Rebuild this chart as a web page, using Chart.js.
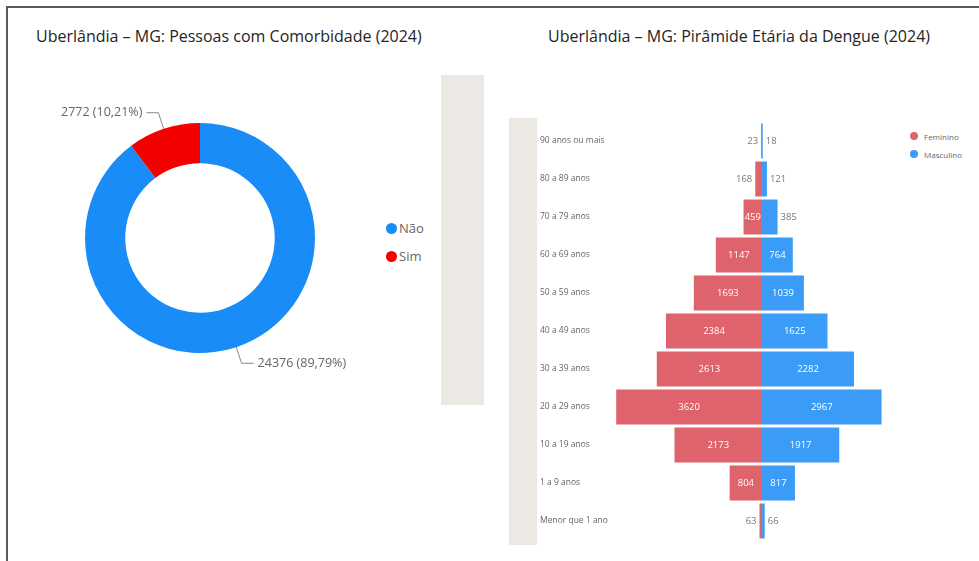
<!DOCTYPE html>
<html lang="pt-BR">
<head>
<meta charset="utf-8">
<script src="https://cdn.jsdelivr.net/npm/chart.js@4.4.1/dist/chart.umd.min.js"></script>
<style>
  html, body { margin:0; padding:0; background:#fff; }
  body { width:979px; height:561px; position:relative; overflow:hidden; font-family:"Open Sans", "Noto Sans", sans-serif; }
  .frame { position:absolute; left:6px; top:6px; width:990px; height:600px; border-top:2px solid #5a5a5a; border-left:2px solid #5a5a5a; }
  .title { position:absolute; top:25px; font-size:16px; color:#252423; white-space:nowrap; }
  .panel { position:absolute; background:#ECE9E4; }
  .legend { position:absolute; color:#666; }
  .legend .item { display:flex; align-items:center; white-space:nowrap; }
  .legend .dot { border-radius:50%; display:inline-block; }
  canvas { position:absolute; }
</style>
</head>
<body>
<div class="frame"></div>
<div class="title" style="left:36px;">Uberlândia – MG: Pessoas com Comorbidade (2024)</div>
<div class="title" style="left:548px;">Uberlândia – MG: Pirâmide Etária da Dengue (2024)</div>
<div class="panel" style="left:441px;top:75px;width:43px;height:330px;"></div>
<div class="panel" style="left:509px;top:118px;width:28px;height:427px;"></div>

<div id="legend-donut" class="legend" style="left:386px;top:214px;font-size:13px;"></div>
<div id="legend-pyr" class="legend" style="left:910px;top:127px;font-size:8px;"></div>

<div style="position:absolute;left:0;top:70px;width:400px;height:360px;"><canvas id="donut"></canvas></div>
<div style="position:absolute;left:530px;top:110px;width:380px;height:440px;"><canvas id="pyramid"></canvas></div>

<script>
// dados
const comorbLabels = ['Não', 'Sim'];
const comorbValues = [24376, 2772];
const comorbColors = ['#1A8CF8', '#F50000'];

const ageGroups = ['90 anos ou mais', '80 a 89 anos', '70 a 79 anos', '60 a 69 anos', '50 a 59 anos',
  '40 a 49 anos', '30 a 39 anos', '20 a 29 anos', '10 a 19 anos', '1 a 9 anos', 'Menor que 1 ano'];
const feminino  = [23, 168, 459, 1147, 1693, 2384, 2613, 3620, 2173, 804, 63];
const masculino = [18, 121, 385, 764, 1039, 1625, 2282, 2967, 1917, 817, 66];
const sexLabels = ['Feminino', 'Masculino'];
const sexColors = ['#DE636D', '#3A9CF6'];

// legendas html
function buildLegend(id, labels, colors, dot, gap, spacing) {
  const el = document.getElementById(id);
  labels.forEach((l, i) => {
    const it = document.createElement('div');
    it.className = 'item';
    it.style.height = spacing + 'px';
    it.innerHTML = '<span class="dot" style="width:' + dot + 'px;height:' + dot + 'px;background:' + colors[i] +
      ';margin-right:' + gap + 'px"></span>' + l;
    el.appendChild(it);
  });
}
buildLegend('legend-donut', comorbLabels, comorbColors, 11, 2, 28);
buildLegend('legend-pyr', sexLabels, sexColors, 8, 6, 18);

const fmtPct = v => v.toFixed(2).replace('.', ',') + '%';

// rótulos com linha guia na rosca
const donutLabels = {
  id: 'donutLabels',
  afterDatasetsDraw(chart) {
    const ctx = chart.ctx;
    const meta = chart.getDatasetMeta(0);
    const total = comorbValues.reduce((a, b) => a + b, 0);
    ctx.save();
    ctx.font = '12.5px "Open Sans", sans-serif';
    ctx.fillStyle = '#666';
    ctx.strokeStyle = '#888';
    ctx.lineWidth = 1;
    ctx.textBaseline = 'middle';
    meta.data.forEach((arc, i) => {
      const mid = (arc.startAngle + arc.endAngle) / 2;
      const cx = Math.cos(mid), cy = Math.sin(mid);
      const p0 = [arc.x + cx * arc.outerRadius, arc.y + cy * arc.outerRadius];
      const p1 = [arc.x + cx * (arc.outerRadius + 17), arc.y + cy * (arc.outerRadius + 17)];
      const dir = cx >= 0 ? 1 : -1;
      const p2 = [p1[0] + dir * 12, p1[1]];
      ctx.beginPath();
      ctx.moveTo(p0[0], p0[1]); ctx.lineTo(p1[0], p1[1]); ctx.lineTo(p2[0], p2[1]);
      ctx.stroke();
      const txt = comorbValues[i] + ' (' + fmtPct(comorbValues[i] / total * 100) + ')';
      ctx.textAlign = dir > 0 ? 'left' : 'right';
      ctx.fillText(txt, p2[0] + dir * 4, p2[1]);
    });
    ctx.restore();
  }
};

new Chart(document.getElementById('donut'), {
  type: 'doughnut',
  data: { labels: comorbLabels, datasets: [{ data: comorbValues, backgroundColor: comorbColors, borderWidth: 0 }] },
  options: {
    responsive: true, maintainAspectRatio: false, animation: false,
    cutout: '65%',
    layout: { padding: { left: 85, right: 85, top: 53, bottom: 77 } },
    plugins: { legend: { display: false }, tooltip: { enabled: false } }
  },
  plugins: [donutLabels]
});

// rótulos das barras da pirâmide
const barLabels = {
  id: 'barLabels',
  afterDatasetsDraw(chart) {
    const ctx = chart.ctx;
    ctx.save();
    ctx.font = '9.5px "Open Sans", sans-serif';
    ctx.textBaseline = 'middle';
    chart.data.datasets.forEach((ds, di) => {
      const meta = chart.getDatasetMeta(di);
      const raw = di === 0 ? feminino : masculino;
      meta.data.forEach((bar, i) => {
        const txt = String(raw[i]);
        const w = Math.abs(bar.x - bar.base);
        const tw = ctx.measureText(txt).width;
        if (w >= tw + 1) {
          ctx.fillStyle = '#fff';
          ctx.textAlign = 'center';
          ctx.fillText(txt, (bar.x + bar.base) / 2, bar.y);
        } else {
          ctx.fillStyle = '#777';
          if (di === 0) { ctx.textAlign = 'right'; ctx.fillText(txt, bar.x - 3, bar.y); }
          else { ctx.textAlign = 'left'; ctx.fillText(txt, bar.x + 3, bar.y); }
        }
      });
    });
    ctx.restore();
  }
};

new Chart(document.getElementById('pyramid'), {
  type: 'bar',
  data: {
    labels: ageGroups,
    datasets: [
      { label: sexLabels[0], data: feminino.map(v => -v), backgroundColor: sexColors[0], borderWidth: 0,
        categoryPercentage: 0.92, barPercentage: 1 },
      { label: sexLabels[1], data: masculino, backgroundColor: sexColors[1], borderWidth: 0,
        categoryPercentage: 0.92, barPercentage: 1 }
    ]
  },
  options: {
    indexAxis: 'y',
    responsive: true, maintainAspectRatio: false, animation: false,
    layout: { padding: { left: 10, right: 11, top: 12, bottom: 10 } },
    scales: {
      x: { stacked: true, min: -3650, max: 3400, display: false },
      y: {
        stacked: true,
        grid: { display: false }, border: { display: false },
        ticks: { crossAlign: 'far', color: '#666', font: { size: 8.5, family: '"Open Sans", sans-serif' }, padding: 0 },
        afterFit(scale) { scale.width = 75; }
      }
    },
    plugins: { legend: { display: false }, tooltip: { enabled: false } }
  },
  plugins: [barLabels]
});
</script>
</body>
</html>
